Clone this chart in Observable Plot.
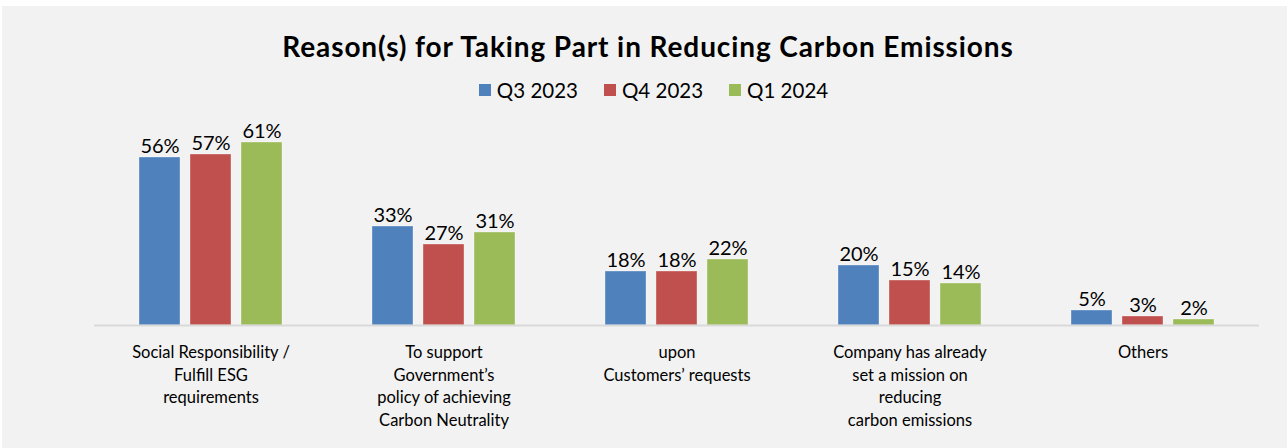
<!DOCTYPE html>
<html>
<head>
<meta charset="utf-8">
<script src="https://cdn.jsdelivr.net/npm/d3@7"></script>
<script src="https://cdn.jsdelivr.net/npm/@observablehq/plot@0.6"></script>
<style>
  html, body { margin: 0; padding: 0; background: #ffffff; width: 1287px; height: 448px; overflow: hidden; }
  body { position: relative; font-family: Lato, "Open Sans", sans-serif; }
  #bg { position: absolute; left: 2px; top: 6px; right: 0; bottom: 0; background: #f2f2f2; }
  #title { position: absolute; left: 0; width: 1296px; top: 28px; text-align: center; font-weight: bold; font-size: 28px; letter-spacing: 0.9px; color: #000; line-height: 36px; }
  #legend { position: absolute; left: 0; width: 1307px; top: 77px; display: flex; justify-content: center; gap: 26px; font-size: 20.5px; color: #000; line-height: 26px; }
  .item { display: flex; align-items: center; gap: 6px; }
  .sw { width: 12px; height: 12px; display: inline-block; }
  #chart { position: absolute; left: 0; top: 110px; }
</style>
</head>
<body>
<div id="bg"></div>
<div id="title">Reason(s) for Taking Part in Reducing Carbon Emissions</div>
<div id="legend"></div>
<div id="chart"></div>
<script>
const categories = [
  "Social Responsibility / Fulfill ESG requirements",
  "To support Government’s policy of achieving Carbon Neutrality",
  "upon Customers’ requests",
  "Company has already set a mission on reducing carbon emissions",
  "Others"
];
const categoryLabels = [
  "Social Responsibility /\nFulfill ESG\nrequirements",
  "To support\nGovernment’s\npolicy of achieving\nCarbon Neutrality",
  "upon\nCustomers’ requests",
  "Company has already\nset a mission on\nreducing\ncarbon emissions",
  "Others"
];
const seriesNames = ["Q3 2023", "Q4 2023", "Q1 2024"];
const seriesColors = ["#4f81bd", "#c0504d", "#9bbb59"];
const q3_2023 = [56, 33, 18, 20, 5];
const q4_2023 = [57, 27, 18, 15, 3];
const q1_2024 = [61, 31, 22, 14, 2];

const seriesValues = [q3_2023, q4_2023, q1_2024];
const rows = [];
categories.forEach((c, i) => {
  seriesNames.forEach((s, j) => rows.push({category: c, series: s, value: seriesValues[j][i]}));
});
const labelOf = new Map(categories.map((c, i) => [c, categoryLabels[i]]));

// legend
const legend = document.getElementById("legend");
seriesNames.forEach((s, j) => {
  const it = document.createElement("div");
  it.className = "item";
  it.innerHTML = `<span class="sw" style="background:${seriesColors[j]}"></span><span>${s}</span>`;
  legend.appendChild(it);
});

const chart = Plot.plot({
  width: 1287,
  height: 338,
  marginLeft: 92,
  marginRight: 27,
  marginTop: 0,
  marginBottom: 123,
  style: {background: "transparent", fontFamily: "Lato, 'Open Sans', sans-serif"},
  fx: {domain: categories, padding: 0},
  x: {domain: seriesNames, paddingInner: 0.2, paddingOuter: 0.87, axis: null},
  y: {domain: [0, 215 / 3], axis: null},
  color: {domain: seriesNames, range: seriesColors},
  marks: [
    Plot.barY(rows, {fx: "category", x: "series", y: "value", fill: "series", stroke: "#ffffff", strokeOpacity: 0.35, strokeWidth: 1}),
    Plot.ruleY([0], {stroke: "#d9d9d9", strokeWidth: 2}),
    Plot.text(rows, {fx: "category", x: "series", y: "value", text: d => d.value + "%", lineAnchor: "bottom", dy: -5, fontSize: 20, fill: "#000"}),
    Plot.axisFx({
      anchor: "bottom",
      tickSize: 0,
      tickPadding: 17,
      tickFormat: d => labelOf.get(d),
      fontSize: 16.5,
      lineHeight: 1.36,
      label: null,
      lineAnchor: "top",
      fill: "#000"
    })
  ]
});
document.getElementById("chart").appendChild(chart);
</script>
</body>
</html>
